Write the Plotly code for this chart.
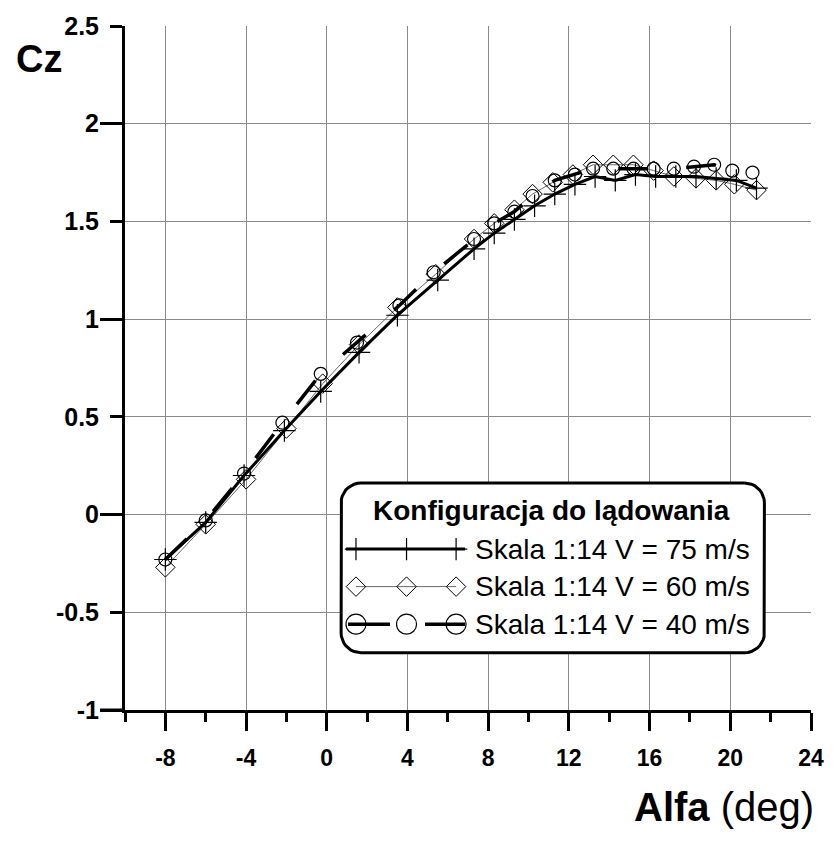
import numpy as np
import plotly.graph_objects as go

# ---------------- data ----------------
alpha_75 = [-8.0, -6.0, -4.1, -2.1, -0.3, 1.6, 3.5, 5.5, 7.3, 8.3, 9.3, 10.3,
            11.3, 12.3, 13.3, 14.3, 15.3, 16.3, 17.3, 18.3, 19.3, 20.3, 21.3]
cz_75 = [-0.23, -0.04, 0.20, 0.43, 0.63, 0.83, 1.02, 1.20, 1.36, 1.44, 1.51, 1.58,
         1.64, 1.69, 1.73, 1.71, 1.74, 1.73, 1.73, 1.73, 1.72, 1.71, 1.67]

alpha_60 = [-8.0, -6.0, -4.0, -2.0, -0.2, 1.6, 3.5, 5.4, 7.3, 8.3, 9.3, 10.2,
            11.2, 12.2, 13.2, 14.2, 15.2, 16.2, 17.2, 18.3, 19.3, 20.2, 21.3]
cz_60 = [-0.27, -0.05, 0.18, 0.44, 0.67, 0.87, 1.06, 1.23, 1.41, 1.49, 1.56, 1.64,
         1.70, 1.74, 1.79, 1.79, 1.79, 1.76, 1.73, 1.72, 1.71, 1.69, 1.66]

alpha_40 = [-8.0, -6.0, -4.1, -2.2, -0.3, 1.5, 3.6, 5.3, 7.3, 8.3, 9.3, 10.2,
            11.3, 12.3, 13.2, 14.2, 15.2, 16.2, 17.2, 18.2, 19.2, 20.1, 21.1]
cz_40 = [-0.23, -0.03, 0.21, 0.47, 0.72, 0.88, 1.07, 1.24, 1.41, 1.49, 1.55, 1.63,
         1.71, 1.74, 1.77, 1.77, 1.77, 1.77, 1.77, 1.78, 1.79, 1.76, 1.75]

series_names = ["Skala 1:14 V = 75 m/s", "Skala 1:14 V = 60 m/s", "Skala 1:14 V = 40 m/s"]
legend_title = "Konfiguracja do lądowania"
x_title_bold, x_title_rest = "Alfa", " (deg)"
y_title = "Cz"

x_tick_vals = [-8, -4, 0, 4, 8, 12, 16, 20, 24]
x_tick_text = ["-8", "-4", "0", "4", "8", "12", "16", "20", "24"]
y_tick_vals = [-1, -0.5, 0, 0.5, 1, 1.5, 2, 2.5]
y_tick_text = ["-1", "-0.5", "0", "0.5", "1", "1.5", "2", "2.5"]
y_major_vals = [-1, 0, 1, 2]

# ---------------- layout geometry ----------------
W, H = 836, 843
L, R, T, B = 125, 19, 17, 133
PW, PH = W - L - R, H - T - B
FONT = "Liberation Sans, Arial, sans-serif"


def px_x(px):
    return (px - L) / PW


def px_y(py):
    return (H - B - py) / PH


fig = go.Figure()

# ---------------- data traces ----------------
fig.add_trace(go.Scatter(
    x=alpha_60, y=cz_60, mode="lines+markers", name=series_names[1],
    line=dict(color="#6a6a6a", width=1),
    marker=dict(symbol="diamond-open", size=15, color="black", line=dict(width=1)),
    showlegend=False))
fig.add_trace(go.Scatter(
    x=alpha_75, y=cz_75, mode="lines+markers", name=series_names[0],
    line=dict(color="black", width=3),
    marker=dict(symbol="cross-thin", size=16, color="black",
                line=dict(width=1.2, color="black")),
    showlegend=False))
fig.add_trace(go.Scatter(
    x=alpha_40, y=cz_40, mode="lines+markers", name=series_names[2],
    line=dict(color="black", width=3.5, dash="30px,38px"),
    marker=dict(symbol="circle-open", size=13, color="black", line=dict(width=1.2)),
    showlegend=False))

# empty trace on overlay axis carrying the long (integer) y ticks
fig.add_trace(go.Scatter(x=[], y=[], xaxis="x", yaxis="y3", showlegend=False,
                         hoverinfo="skip"))

# ---------------- custom legend (on a pixel-space overlay axis) ----------------
box_x0, box_x1, box_y0, box_y1, box_r = 343, 770, 480, 652, 20


def rounded_rect(x0, y0, x1, y1, r, n=10):
    pts = []
    corners = [(x1 - r, y0 + r, -np.pi / 2, 0), (x1 - r, y1 - r, 0, np.pi / 2),
               (x0 + r, y1 - r, np.pi / 2, np.pi), (x0 + r, y0 + r, np.pi, 1.5 * np.pi)]
    for cx, cy, a0, a1 in corners:
        for a in np.linspace(a0, a1, n):
            pts.append((cx + r * np.cos(a), cy + r * np.sin(a)))
    pts.append(pts[0])
    return [p[0] for p in pts], [p[1] for p in pts]


bx, by = rounded_rect(box_x0, box_y0, box_x1, box_y1, box_r)
fig.add_trace(go.Scatter(x=bx, y=by, xaxis="x2", yaxis="y2", mode="lines",
                         fill="toself", fillcolor="white",
                         line=dict(color="black", width=3),
                         showlegend=False, hoverinfo="skip"))

row_y = [547, 585, 623]
key_marks = [358, 409, 459]
key_specs = [
    dict(line=dict(color="black", width=3), span=(348, 468),
         marker=dict(symbol="cross-thin", size=16, color="black",
                     line=dict(width=1.2, color="black"))),
    dict(line=dict(color="#6a6a6a", width=1), span=(358, 459),
         marker=dict(symbol="diamond-open", size=15, color="black", line=dict(width=1))),
    dict(line=dict(color="black", width=3.5, dash="42px,35px"), span=(350, 468),
         marker=dict(symbol="circle-open", size=20, color="black", line=dict(width=1.2))),
]
for ry, spec in zip(row_y, key_specs):
    fig.add_trace(go.Scatter(x=list(spec["span"]), y=[ry, ry], xaxis="x2", yaxis="y2",
                             mode="lines", line=spec["line"], showlegend=False,
                             hoverinfo="skip"))
    fig.add_trace(go.Scatter(x=key_marks, y=[ry] * len(key_marks), xaxis="x2", yaxis="y2",
                             mode="markers", marker=spec["marker"], showlegend=False,
                             hoverinfo="skip"))

annotations = [
    dict(x=(box_x0 + box_x1) / 2 - 1, y=508, xref="x2", yref="y2",
         text="<b>" + legend_title + "</b>", showarrow=False,
         xanchor="center", yanchor="middle",
         font=dict(family=FONT, size=28, color="black")),
]
for ry, nm in zip(row_y, series_names):
    annotations.append(dict(x=476, y=ry, xref="x2", yref="y2", text=nm, showarrow=False,
                            xanchor="left", yanchor="middle",
                            font=dict(family=FONT, size=28, color="black")))

annotations.append(dict(x=px_x(38), y=px_y(50), xref="paper", yref="paper",
                        text="<b>" + y_title + "</b>", showarrow=False,
                        xanchor="center", yanchor="middle",
                        font=dict(family=FONT, size=38, color="black")))
annotations.append(dict(x=px_x(822), y=px_y(808), xref="paper", yref="paper",
                        text="<b>" + x_title_bold + "</b>" + x_title_rest, showarrow=False,
                        xanchor="right", yanchor="middle",
                        font=dict(family=FONT, size=40, color="black")))

grid_col = "#8a8a8a"
fig.update_layout(
    width=W, height=H,
    margin=dict(l=L, r=R, t=T, b=B, pad=0),
    paper_bgcolor="white", plot_bgcolor="white",
    showlegend=False,
    font=dict(family=FONT, color="black"),
    xaxis=dict(range=[-10, 24], tickvals=x_tick_vals, ticktext=x_tick_text,
               ticks="outside", ticklen=18,
               tickwidth=3, tickcolor="black", showline=True, linewidth=3,
               linecolor="black", showgrid=True, gridcolor=grid_col, gridwidth=1,
               zeroline=False, ticklabelstandoff=7,
               tickfont=dict(family=FONT, size=23, color="black", weight="bold"),
               minor=dict(dtick=2, tick0=0, ticks="outside", ticklen=9, tickwidth=3,
                          tickcolor="black", showgrid=False)),
    yaxis=dict(range=[-1, 2.5], tickvals=y_tick_vals, ticktext=y_tick_text,
               ticks="outside", ticklen=12, tickwidth=3, tickcolor="black",
               showline=True, linewidth=3, linecolor="black", showgrid=True,
               gridcolor=grid_col, gridwidth=1, zeroline=False, ticklabelstandoff=6,
               tickfont=dict(family=FONT, size=25, color="black", weight="bold")),
    yaxis3=dict(range=[-1, 2.5], overlaying="y", anchor="x", side="left",
                tickvals=y_major_vals, ticks="outside", ticklen=24, tickwidth=3,
                tickcolor="black", showticklabels=False, showgrid=False,
                showline=False, zeroline=False),
    xaxis2=dict(range=[L, W - R], overlaying="x", anchor="y2", visible=False,
                fixedrange=True),
    yaxis2=dict(range=[H - B, T], overlaying="y", anchor="x2", visible=False,
                fixedrange=True),
    annotations=annotations,
    shapes=[dict(type="line", xref="paper", yref="paper", x0=px_x(100), x1=0,
                 y0=0, y1=0, line=dict(color="black", width=3))],
)

fig.write_html("out.html")
